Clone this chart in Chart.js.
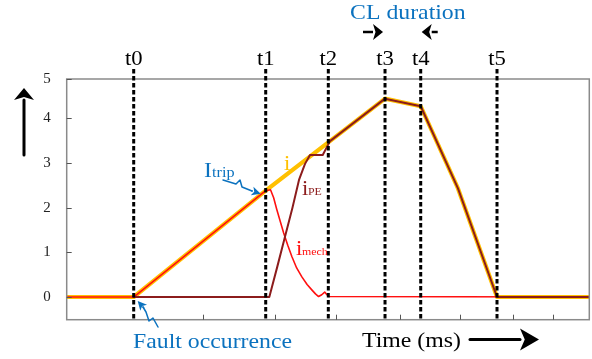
<!DOCTYPE html>
<html>
<head>
<meta charset="utf-8">
<script src="https://cdn.jsdelivr.net/npm/chart.js@4/dist/chart.umd.min.js"></script>
<style>
  html, body { margin: 0; padding: 0; background: #fff; }
  #wrap { width: 592px; height: 359px; }
</style>
</head>
<body>
<div id="wrap"><canvas id="faultChart" width="592" height="359"></canvas></div>
<script>
// time axis (ms, arbitrary units) and currents (kA)
const markerTimes = [12.82, 38.08, 50.06, 60.91, 67.74, 82.34];
const markerLabels = ['t0', 't1', 't2', 't3', 't4', 't5'];

const iTimes  = [0, 12.82, 38.08, 60.91, 67.74, 74.87, 82.34, 100];
const iValues = [0, 0,     2.38,  4.44,  4.27,  2.43,  0,     0];

const mechTimes  = [0, 12.82, 38.08, 39.0, 39.6, 40.2, 40.8, 41.5, 42.3, 43.1, 44.0, 45.0, 46.0, 46.9, 47.6, 48.2, 48.8, 49.37, 49.8, 50.13, 100];
const mechValues = [0, 0,     2.38,  2.40, 2.22, 1.96, 1.72, 1.44, 1.16, 0.90, 0.65, 0.45, 0.28, 0.16, 0.07, 0.01, 0.05, 0.11,  0.05, 0.01,  0];

const peTimes  = [12.82, 38.77, 40.3, 41.77, 43.2, 44.45, 45.6, 46.56, 48.99, 50.38, 60.91, 67.74, 74.87, 82.34, 100];
const peValues = [0,     0,     0.68, 1.35,  2.0,  2.62,  2.98, 3.18,  3.18,  3.49,  4.44,  4.27,  2.43,  0,     0];

const yMin = -0.508, yMax = 4.88;
const yTickValues = [0, 1, 2, 3, 4, 4.88];
const yTickLabels = ['0', '1', '2', '3', '4', '5'];
const xTickValues = [26.02, 39.86, 51.47, 63.84, 75.26, 85.34, 93.0];

const ORANGE = '#ffc000', RED = '#ff1010', MAROON = '#8c1c1c', BLUE = '#0b72bf';
const SERIF = '"Liberation Serif", "DejaVu Serif", serif';
const STRETCH = 1.08; // serif glyphs run a little wide here

function pts(xs, ys) { return xs.map((t, k) => ({ x: t, y: ys[k] })); }

function arrow(ctx, x1, y1, x2, y2, len, half, width, color) {
  const ang = Math.atan2(y2 - y1, x2 - x1);
  const bx = x2 - len * Math.cos(ang), by = y2 - len * Math.sin(ang);
  ctx.strokeStyle = color; ctx.fillStyle = color; ctx.lineWidth = width;
  ctx.setLineDash([]);
  ctx.beginPath(); ctx.moveTo(x1, y1); ctx.lineTo(bx, by); ctx.stroke();
  ctx.beginPath();
  ctx.moveTo(x2, y2);
  ctx.lineTo(bx + half * Math.sin(ang), by - half * Math.cos(ang));
  ctx.lineTo(x2 - 0.75 * len * Math.cos(ang), y2 - 0.75 * len * Math.sin(ang));
  ctx.lineTo(bx - half * Math.sin(ang), by + half * Math.cos(ang));
  ctx.closePath(); ctx.fill();
}

// squiggly pointer: polyline then a small arrow head at the end
function squiggle(ctx, path, tip) {
  ctx.strokeStyle = BLUE; ctx.lineWidth = 1.5; ctx.lineJoin = 'round'; ctx.lineCap = 'round';
  ctx.beginPath();
  ctx.moveTo(path[0][0], path[0][1]);
  for (let k = 1; k < path.length; k++) ctx.lineTo(path[k][0], path[k][1]);
  ctx.stroke();
  const last = path[path.length - 1];
  arrow(ctx, last[0], last[1], tip[0], tip[1], 9, 4.5, 1.5, BLUE);
}

function text(ctx, str, x, y, size, color, align) {
  ctx.save();
  ctx.translate(x, y);
  ctx.scale(STRETCH, 1);
  ctx.font = size + 'px ' + SERIF;
  ctx.fillStyle = color;
  ctx.textAlign = align || 'left';
  ctx.textBaseline = 'alphabetic';
  ctx.fillText(str, 0, 0);
  ctx.restore();
}

const decorations = {
  id: 'decorations',
  afterDatasetsDraw(chart) {
    const { ctx, chartArea: a, scales: { x, y } } = chart;
    ctx.save();

    // frame
    ctx.strokeStyle = '#8a8a8a'; ctx.lineWidth = 1.5;
    ctx.strokeRect(a.left, a.top, a.right - a.left, a.bottom - a.top);

    // inward tick marks
    ctx.lineWidth = 1; ctx.strokeStyle = '#555';
    xTickValues.forEach(v => {
      const px = Math.round(x.getPixelForValue(v)) + 0.5;
      ctx.beginPath(); ctx.moveTo(px, a.bottom); ctx.lineTo(px, a.bottom - 5); ctx.stroke();
    });
    yTickValues.forEach(v => {
      const py = Math.round(y.getPixelForValue(v)) + 0.5;
      ctx.beginPath(); ctx.moveTo(a.left, py); ctx.lineTo(a.left + 5, py); ctx.stroke();
    });

    // event markers t0..t5
    ctx.strokeStyle = '#000'; ctx.lineWidth = 3; ctx.setLineDash([4.5, 2.5]); ctx.lineCap = 'butt';
    markerTimes.forEach((t, k) => {
      const px = x.getPixelForValue(t);
      ctx.beginPath(); ctx.moveTo(px, a.top - 10); ctx.lineTo(px, a.bottom + 1); ctx.stroke();
      text(ctx, markerLabels[k], px, a.top - 14, 21, '#000', 'center');
    });
    ctx.setLineDash([]);

    // CL duration between t3 and t4
    const x3 = x.getPixelForValue(markerTimes[3]), x4 = x.getPixelForValue(markerTimes[4]);
    text(ctx, 'CL duration', (x3 + x4) / 2 + 5, 19, 22, BLUE, 'center');
    arrow(ctx, x3 - 22, 32, x3 - 2, 32, 10, 8, 2.5, '#000');
    arrow(ctx, x4 + 17, 32, x4 + 1, 32, 10, 8, 2.5, '#000');

    // series labels
    text(ctx, 'i', 284, 170, 21, ORANGE);
    text(ctx, 'i', 302, 195, 21, MAROON);
    text(ctx, 'PE', 308, 195, 11, MAROON);
    text(ctx, 'i', 296, 255, 21, RED);
    text(ctx, 'mech', 302, 255, 11, RED);

    // I_trip pointer at t1
    const p1x = x.getPixelForValue(markerTimes[1]), p1y = y.getPixelForValue(iValues[2]);
    text(ctx, 'I', 204, 177, 22, BLUE);
    text(ctx, 'trip', 212, 177, 15, BLUE);
    squiggle(ctx, [[223, 180], [236, 184], [240, 180], [242, 187], [252, 191]], [p1x - 5, p1y + 3]);

    // fault occurrence pointer at t0
    const p0x = x.getPixelForValue(markerTimes[0]), p0y = y.getPixelForValue(0);
    text(ctx, 'Fault occurrence', 133, 348, 22, BLUE);
    squiggle(ctx, [[158, 327], [153, 318], [149, 321], [146, 312], [143, 307]], [p0x + 4, p0y + 4]);

    // axis direction arrows and time label
    arrow(ctx, 24, 155, 24, 88, 12, 10, 3, '#000');
    text(ctx, 'Time (ms)', 362, 347, 22, '#000');
    arrow(ctx, 470, 339.5, 539, 339.5, 19, 11, 3, '#000');

    ctx.restore();
  }
};

new Chart(document.getElementById('faultChart').getContext('2d'), {
  type: 'line',
  data: {
    datasets: [
      { label: 'iPE', data: pts(peTimes, peValues), borderColor: MAROON, borderWidth: 2 },
      { label: 'imech', data: pts(mechTimes, mechValues), borderColor: RED, borderWidth: 1.6 },
      { label: 'i', data: pts(iTimes, iValues), borderColor: ORANGE, borderWidth: 4.2 }
    ]
  },
  options: {
    responsive: false,
    animation: false,
    parsing: false,
    layout: { padding: { top: 79, right: 2.7, left: 0, bottom: 0 } },
    elements: {
      point: { radius: 0 },
      line: { tension: 0, borderJoinStyle: 'round', borderCapStyle: 'round' }
    },
    plugins: { legend: { display: false }, tooltip: { enabled: false } },
    scales: {
      x: {
        type: 'linear', min: 0, max: 100,
        grid: { display: false }, border: { display: false },
        ticks: { display: false },
        afterFit: s => { s.height = 39.3; }
      },
      y: {
        type: 'linear', min: yMin, max: yMax,
        grid: { display: false }, border: { display: false },
        afterBuildTicks: s => { s.ticks = yTickValues.map(v => ({ value: v })); },
        ticks: {
          padding: 8, color: '#222',
          font: { family: SERIF, size: 15 },
          callback: (v, k) => yTickLabels[k]
        },
        afterFit: s => { s.width = 66.7; }
      }
    }
  },
  plugins: [decorations]
});
</script>
</body>
</html>
